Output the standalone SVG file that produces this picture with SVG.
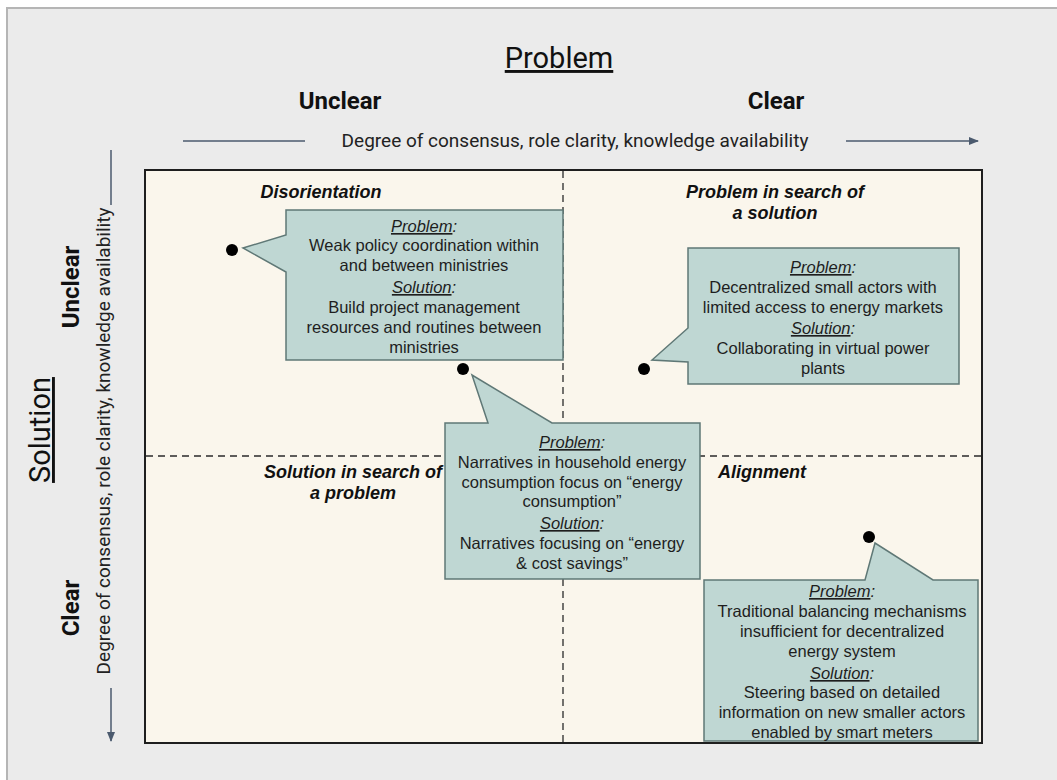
<svg xmlns="http://www.w3.org/2000/svg" width="1057" height="780" viewBox="0 0 1057 780">
<defs>
<marker id="arr" viewBox="0 0 10 10" refX="9" refY="5" markerWidth="10" markerHeight="8" orient="auto" markerUnits="userSpaceOnUse" preserveAspectRatio="none">
<path d="M0,0 L10,5 L0,10 Z" fill="#4b5a6e"/>
</marker>
<style>
.frame{fill:#ebebeb;stroke:#b5b5b5;stroke-width:2}
.quad{fill:#faf6ec}
.border{fill:none;stroke:#1e1e1e;stroke-width:2}
.dash{stroke:#2a2a2a;stroke-width:1.3;stroke-dasharray:7 5;fill:none}
.axis{stroke:#4b5a6e;stroke-width:1.5;fill:none}
.call{fill:#bfd7d3;stroke:#5f7876;stroke-width:1.5}
.dot{fill:#000}
.ct{font-family:"Liberation Sans",Arial,sans-serif;font-size:16.5px;fill:#1e1e1e;text-anchor:middle}
.hd{font-style:italic}
.ul{text-decoration:underline}
.ql{font-family:"Liberation Sans",Arial,sans-serif;font-size:18px;font-weight:bold;font-style:italic;fill:#111;text-anchor:middle}
.title{font-family:Roboto,"Liberation Sans",sans-serif;font-size:29px;fill:#111;text-anchor:middle;text-decoration:underline}
.lvl{font-family:Roboto,"Liberation Sans",sans-serif;font-size:24px;font-weight:bold;fill:#111;text-anchor:middle}
.ax{font-family:Roboto,"Liberation Sans",sans-serif;font-size:19px;fill:#222;text-anchor:middle}
</style>
</defs>
<rect x="0" y="0" width="1057" height="780" fill="#ffffff"/>
<rect class="frame" x="7" y="8" width="1060" height="790"/>

<g id="headers">
<text class="title" x="559" y="68">Problem</text>
<text class="lvl" x="340" y="109">Unclear</text>
<text class="lvl" x="776" y="109">Clear</text>
<text class="ax" x="575" y="147">Degree of consensus, role clarity, knowledge availability</text>
<text class="title" transform="translate(50,430) rotate(-90)">Solution</text>
<text class="lvl" transform="translate(79,287) rotate(-90)">Unclear</text>
<text class="lvl" transform="translate(79,608) rotate(-90)">Clear</text>
<text class="ax" transform="translate(110,441) rotate(-90)">Degree of consensus, role clarity, knowledge availability</text>
</g>

<g id="connectors">
<line class="axis" x1="183" y1="141" x2="305" y2="141"/>
<line class="axis" x1="846" y1="141" x2="978" y2="141" marker-end="url(#arr)"/>
<line class="axis" x1="111" y1="150" x2="111" y2="205"/>
<line class="axis" x1="111" y1="688" x2="111" y2="741" marker-end="url(#arr)"/>
</g>

<g id="matrix">
<rect class="quad" x="145" y="170" width="837" height="573"/>
<line class="dash" x1="563" y1="171" x2="563" y2="742"/>
<line class="dash" x1="146" y1="456" x2="981" y2="456"/>
</g>

<g id="quadrant-labels">
<text class="ql" x="321" y="198">Disorientation</text>
<text class="ql" x="775" y="198">Problem in search of</text>
<text class="ql" x="775" y="219">a solution</text>
<text class="ql" x="353" y="478">Solution in search of</text>
<text class="ql" x="353" y="499">a problem</text>
<text class="ql" x="762" y="478">Alignment</text>
</g>

<g id="callout-disorientation">
<path class="call" d="M286,210 H563 V360 H286 V272 L243,248 L286,235 Z"/>
<circle class="dot" cx="232" cy="250" r="6"/>
<text class="ct" x="424" y="232"><tspan class="hd ul">Problem</tspan><tspan class="hd">:</tspan></text>
<text class="ct" x="424" y="251">Weak policy coordination within</text>
<text class="ct" x="424" y="271">and between ministries</text>
<text class="ct" x="424" y="293"><tspan class="hd ul">Solution</tspan><tspan class="hd">:</tspan></text>
<text class="ct" x="424" y="313">Build project management</text>
<text class="ct" x="424" y="333">resources and routines between</text>
<text class="ct" x="424" y="353">ministries</text>
</g>

<g id="callout-problem-search">
<path class="call" d="M688,248 H959 V384 H688 V362 L652,360 L688,328 Z"/>
<circle class="dot" cx="644" cy="369" r="6"/>
<text class="ct" x="823" y="273"><tspan class="hd ul">Problem</tspan><tspan class="hd">:</tspan></text>
<text class="ct" x="823" y="293">Decentralized small actors with</text>
<text class="ct" x="823" y="313">limited access to energy markets</text>
<text class="ct" x="823" y="334"><tspan class="hd ul">Solution</tspan><tspan class="hd">:</tspan></text>
<text class="ct" x="823" y="354">Collaborating in virtual power</text>
<text class="ct" x="823" y="374">plants</text>
</g>

<g id="callout-solution-search">
<path class="call" d="M445,423 H488 L472,375 L552,423 H700 V579 H445 Z"/>
<circle class="dot" cx="463" cy="369" r="6"/>
<text class="ct" x="572" y="448"><tspan class="hd ul">Problem</tspan><tspan class="hd">:</tspan></text>
<text class="ct" x="572" y="468">Narratives in household energy</text>
<text class="ct" x="572" y="488">consumption focus on “energy</text>
<text class="ct" x="572" y="507">consumption”</text>
<text class="ct" x="572" y="529"><tspan class="hd ul">Solution</tspan><tspan class="hd">:</tspan></text>
<text class="ct" x="572" y="549">Narratives focusing on “energy</text>
<text class="ct" x="572" y="569">&amp; cost savings”</text>
</g>

<g id="callout-alignment">
<path class="call" d="M704,580 H865 L875,543 L933,580 H978 V741 H704 Z"/>
<circle class="dot" cx="869" cy="537" r="6"/>
<text class="ct" x="842" y="597"><tspan class="hd ul">Problem</tspan><tspan class="hd">:</tspan></text>
<text class="ct" x="842" y="617">Traditional balancing mechanisms</text>
<text class="ct" x="842" y="637">insufficient for decentralized</text>
<text class="ct" x="842" y="657">energy system</text>
<text class="ct" x="842" y="679"><tspan class="hd ul">Solution</tspan><tspan class="hd">:</tspan></text>
<text class="ct" x="842" y="698">Steering based on detailed</text>
<text class="ct" x="842" y="718">information on new smaller actors</text>
<text class="ct" x="842" y="738">enabled by smart meters</text>
</g>

<rect class="border" x="145" y="170" width="837" height="573"/>
</svg>
